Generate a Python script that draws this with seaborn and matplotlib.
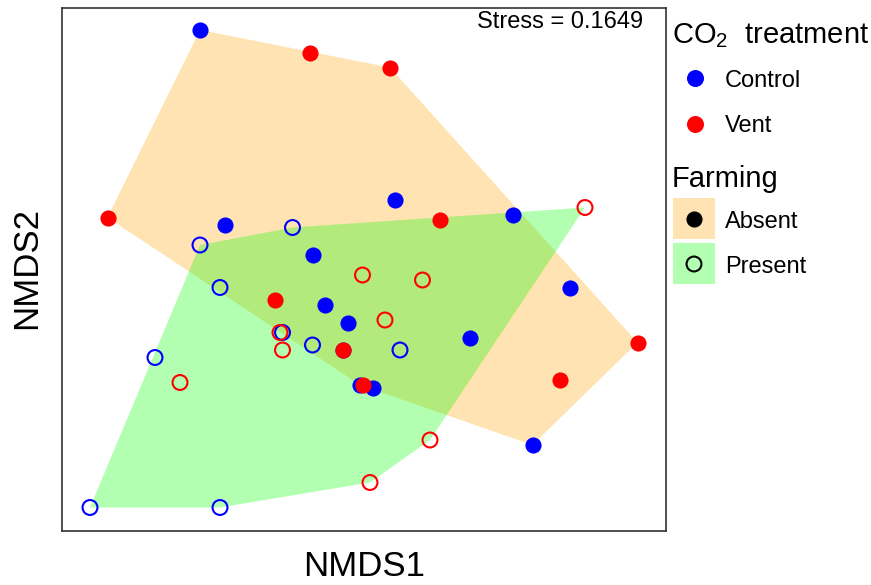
import numpy as np
import pandas as pd
import matplotlib
matplotlib.use("Agg")
import matplotlib.pyplot as plt
import seaborn as sns
from matplotlib.patches import Rectangle

# ---------------- data ----------------
absent_control_nmds1 = [-0.60, -0.50, 0.18, 0.65, -0.15, -0.10, -0.01, 0.88, 0.48, 0.73, 0.09, -0.03, 0.04]
absent_control_nmds2 = [1.08, 0.30, 0.40, 0.34, 0.18, -0.02, -0.09, 0.05, -0.15, -0.58, -0.35, -0.20, -0.34]
absent_vent_nmds1 = [-0.16, 0.16, -0.97, 0.36, -0.30, -0.03, 0.05, 1.15, 0.84]
absent_vent_nmds2 = [0.99, 0.93, 0.33, 0.32, 0.00, -0.20, -0.34, -0.17, -0.32]
present_control_nmds1 = [-0.60, -0.23, -0.52, -0.27, -0.15, 0.20, -0.78, -1.04, -0.52]
present_control_nmds2 = [0.22, 0.29, 0.05, -0.13, -0.18, -0.20, -0.23, -0.83, -0.83]
present_vent_nmds1 = [0.05, 0.29, 0.14, -0.28, -0.27, -0.68, 0.32, 0.08, 0.94]
present_vent_nmds2 = [0.10, 0.08, -0.08, -0.13, -0.20, -0.33, -0.56, -0.73, 0.37]

co2_levels = ["Control", "Vent"]
farming_levels = ["Absent", "Present"]
stress_value = 0.1649

# ---------------- style ----------------
sns.set_theme(style="white")
plt.rcParams['font.family'] = ['Liberation Sans', 'DejaVu Sans']
plt.rcParams['mathtext.fontset'] = 'custom'
plt.rcParams['mathtext.rm'] = 'Liberation Sans'
plt.rcParams['mathtext.it'] = 'Liberation Sans:italic'
plt.rcParams['mathtext.bf'] = 'Liberation Sans:bold'

co2_colors = {"Control": "#0000FF", "Vent": "#FF0000"}
farm_fill = {"Absent": "#FFA500", "Present": "#00FF00"}
fill_alpha = 0.3

rows = []
for f, c, xs, ys in [("Absent", "Control", absent_control_nmds1, absent_control_nmds2),
                     ("Absent", "Vent", absent_vent_nmds1, absent_vent_nmds2),
                     ("Present", "Control", present_control_nmds1, present_control_nmds2),
                     ("Present", "Vent", present_vent_nmds1, present_vent_nmds2)]:
    for x, y in zip(xs, ys):
        rows.append({"NMDS1": x, "NMDS2": y, "CO2": c, "Farming": f})
df = pd.DataFrame(rows)


def convex_hull(points):
    pts = sorted(set(map(tuple, points)))
    if len(pts) <= 2:
        return pts

    def cross(o, a, b):
        return (a[0] - o[0]) * (b[1] - o[1]) - (a[1] - o[1]) * (b[0] - o[0])

    lower = []
    for p in pts:
        while len(lower) >= 2 and cross(lower[-2], lower[-1], p) <= 0:
            lower.pop()
        lower.append(p)
    upper = []
    for p in reversed(pts):
        while len(upper) >= 2 and cross(upper[-2], upper[-1], p) <= 0:
            upper.pop()
        upper.append(p)
    return lower[:-1] + upper[:-1]


W, H = 871, 585
fig = plt.figure(figsize=(W / 100, H / 100), dpi=100)
ax = fig.add_axes([62 / W, 54 / H, 604 / W, 523 / H])

# hulls
for z, farm in enumerate(farming_levels):
    sub = df[df["Farming"] == farm]
    hull = convex_hull(sub[["NMDS1", "NMDS2"]].values)
    hx = [p[0] for p in hull]
    hy = [p[1] for p in hull]
    ax.fill(hx, hy, color=farm_fill[farm], alpha=fill_alpha, lw=0, zorder=1 + z)

# filled points (Absent)
for c in co2_levels:
    sub = df[(df["Farming"] == "Absent") & (df["CO2"] == c)]
    sns.scatterplot(data=sub, x="NMDS1", y="NMDS2", color=co2_colors[c], s=135,
                    linewidth=0, ax=ax, legend=False, zorder=5)
# open points (Present)
for c in co2_levels:
    sub = df[(df["Farming"] == "Present") & (df["CO2"] == c)]
    sns.scatterplot(data=sub, x="NMDS1", y="NMDS2", color=co2_colors[c],
                    facecolors="none", edgecolor=co2_colors[c], s=115,
                    linewidth=1.5, ax=ax, legend=False, zorder=6)

ax.set_xlim(-1.152, 1.264)
ax.set_ylim(-0.924, 1.168)
ax.set_xticks([])
ax.set_yticks([])
ax.set_xlabel("")
ax.set_ylabel("")
for sp in ax.spines.values():
    sp.set_color("#333333")
    sp.set_linewidth(1.2)

ax.text(0.962, 0.9618, f"Stress = {stress_value:.4f}", transform=ax.transAxes,
        ha="right", va="baseline", fontsize=17, color="black")

fig.text(364 / W, 1 - 576 / H, "NMDS1", ha="center", va="baseline", fontsize=25, color="black")
fig.text(27 / W, 1 - 268 / H, "NMDS2", ha="center", va="center", rotation=90,
         fontsize=25, color="black")

# legend overlay (pixel coords)
lg = fig.add_axes([0, 0, 1, 1], zorder=10)
lg.set_xlim(0, W)
lg.set_ylim(H, 0)
lg.axis("off")
lg.patch.set_alpha(0)

lg.text(672, 43, r"CO$_2$  treatment", ha="left", va="baseline", fontsize=21, color="black")
for i, c in enumerate(co2_levels):
    yc = 78 + i * 45.5
    lg.scatter([695], [yc], s=150, color=co2_colors[c], linewidth=0)
    lg.text(725, yc + 9, c, ha="left", va="baseline", fontsize=17, color="black")

lg.text(672, 187, "Farming", ha="left", va="baseline", fontsize=21, color="black")
for i, f in enumerate(farming_levels):
    y0 = 198 + i * 45
    lg.add_patch(Rectangle((673, y0), 42, 41, facecolor=farm_fill[f], alpha=fill_alpha, lw=0))
    if f == "Absent":
        lg.scatter([694], [y0 + 21], s=135, color="black", linewidth=0)
    else:
        lg.scatter([694], [y0 + 21], s=115, facecolors="none", edgecolors="black", linewidth=1.5)
    lg.text(725, y0 + 30, f, ha="left", va="baseline", fontsize=17, color="black")

fig.savefig("out.png", dpi=100)
